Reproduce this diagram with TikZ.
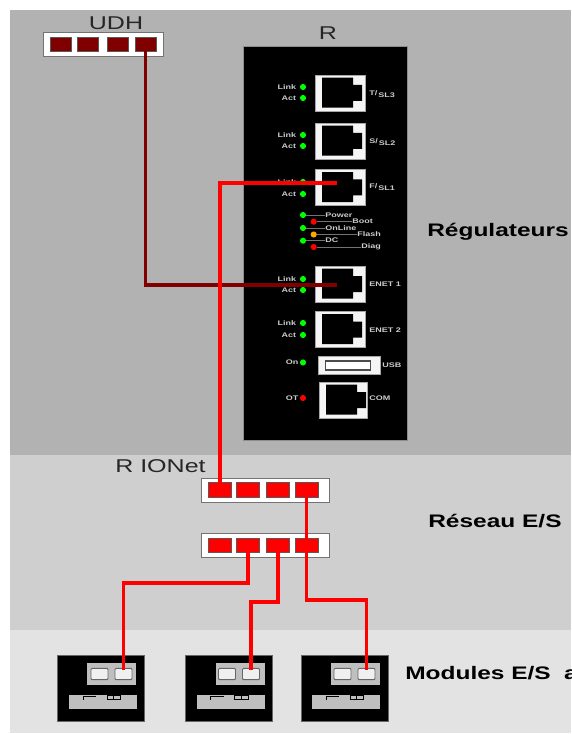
\documentclass[tikz,border=0pt]{standalone}
\usepackage{fontspec}
\setmainfont{Liberation Sans}
\newfontfamily\widefont[FakeStretch=1.35]{Liberation Sans}
\usetikzlibrary{positioning,calc}
\definecolor{wirered}{HTML}{FF0000}
\definecolor{wiredark}{HTML}{800000}
\tikzset{
  title/.style={font=\widefont\fontsize{13.9pt}{15pt}\selectfont,text=black!85,inner sep=0},
  zone/.style={font=\widefont\bfseries\fontsize{13.6pt}{15pt}\selectfont,text=black,inner sep=0,anchor=west},
  small/.style={font=\widefont\bfseries\fontsize{5pt}{6pt}\selectfont,text=black!20,inner sep=0},
  led/.style={circle,fill=green,inner sep=0,minimum size=4.6pt},
  tick/.style={draw=black!55,line width=0.5pt},
  rj/.style={draw=black!35,fill=white!96!black,line width=0.6pt,inner sep=0,minimum width=37.5pt,minimum height=27pt,
    path picture={\fill[black] ([shift={(5.25pt,-2pt)}]path picture bounding box.north west)
      -- ++(23.25pt,0) -- ++(0,-5.5pt) -- ++(6.75pt,0) -- ++(0,-12pt) -- ++(-6.75pt,0) -- ++(0,-5pt) -- ++(-23.25pt,0) -- cycle;}},
  usbbox/.style={draw=black!35,fill=white!96!black,line width=0.6pt,inner sep=0,minimum width=46.5pt,minimum height=13pt},
  usbslot/.style={draw=black!70,line width=1.2pt,fill=white,inner sep=0,minimum width=34pt,minimum height=6.5pt},
  swbox/.style={draw=black!55,fill=white,line width=0.7pt,inner sep=0,minimum width=96pt,minimum height=18pt},
  udhbox/.style={draw=black!55,fill=white,line width=0.7pt,inner sep=0,minimum width=90pt,minimum height=18pt},
  swport/.style={draw=black!65,fill=wirered,line width=0.5pt,inner sep=0,minimum width=17pt,minimum height=11.5pt},
  udhport/.style={draw=black!65,fill=wiredark,line width=0.5pt,inner sep=0,minimum width=16pt,minimum height=10.5pt},
  wire/.style={draw=wirered,line width=2.9pt},
  darkwire/.style={draw=wiredark,line width=2.4pt},
  modbox/.style={draw=black!60,fill=black,line width=0.4pt,inner sep=0,minimum width=65pt,minimum height=49.5pt},
  modtop/.style={fill=black!25,inner sep=0,minimum width=36.75pt,minimum height=16.5pt},
  socket/.style={draw=black!60,fill=black!6,rounded corners=0.8pt,line width=0.7pt,inner sep=0,minimum width=12.75pt,minimum height=8.5pt},
  modlow/.style={fill=black!25,inner sep=0,minimum width=51pt,minimum height=10.5pt,
    path picture={\draw[black,line width=0.5pt] ([shift={(10.5pt,-3.8pt)}]path picture bounding box.north west) -- ++(0,3pt) -- ++(10pt,0);
      \draw[black,line width=0.5pt] ([shift={(28.5pt,-0.6pt)}]path picture bounding box.north west) rectangle ++(10pt,-2.4pt);
      \draw[black,line width=0.5pt] ([shift={(33.5pt,-0.6pt)}]path picture bounding box.north west) -- ++(0,-2.4pt);}}
}
\begin{document}
\begin{tikzpicture}[x=0.75pt,y=-0.75pt]
\useasboundingbox (0,0) rectangle (571,734);
\fill[black!30] (10,10) rectangle (571,455);
\fill[black!19] (10,455) rectangle (571,630);
\fill[black!11] (10,630) rectangle (571,733);
% zone labels
\node[zone](regul) at (427,232){Régulateurs};
\node[zone](reseau) at (428,521){Réseau E/S};
\node[zone](modules) at (405,673){Modules E/S\hspace{10pt}a};
% UDH switch
\node[title](udhlab) at (116,23){UDH};
\node[udhbox](udh) at (103,44.5){};
\node[udhport](udha) at (61,44){};
\node[udhport](udhb) at (88,44){};
\node[udhport](udhc) at (118,44){};
\node[udhport](udhd) at (145.7,44){};
% controller panel
\node[title](rlab) at (328,33){R};
\node[draw=black!45,fill=black,line width=0.6pt,inner sep=0,minimum width=123pt,minimum height=296pt](panel) at (325,243.5){};
\node[rj](sl3) at (340,93){};
\node[rj](sl2) at (340,141){};
\node[rj](sl1) at (340,187.5){};
\node[rj](enet1) at (340,284){};
\node[rj](enet2) at (340,329.5){};
\node[usbbox](usb) at (349,365.5){};
\node[usbslot](usbin) at (348,365.5){};
\node[rj,minimum width=36pt](com) at (343,400){};
\node[small,anchor=west](sl3lab) at (369,94){\raisebox{1.5pt}{T/}\,SL3};
\node[small,anchor=west](sl2lab) at (369,142){\raisebox{1.5pt}{S/}\,SL2};
\node[small,anchor=west](sl1lab) at (369,187){\raisebox{1.5pt}{F/}\,SL1};
\node[small,anchor=west](enet1lab) at (369,284){ENET 1};
\node[small,anchor=west](enet2lab) at (369,330){ENET 2};
\node[small,anchor=west](usblab) at (382,365){USB};
\node[small,anchor=west](comlab) at (369,398){COM};
% port leds
\node[led](la) at (303,87){}; \node[small,left=2.5pt of la](lat){Link};
\node[led](lb) at (303,98){}; \node[small,left=2.5pt of lb](lbt){Act};
\node[led](lc) at (303,135){}; \node[small,left=2.5pt of lc](lct){Link};
\node[led](ld) at (303,146){}; \node[small,left=2.5pt of ld](ldt){Act};
\node[led](le) at (303,182){}; \node[small,left=2.5pt of le](let){Link};
\node[led](lf) at (303,194){}; \node[small,left=2.5pt of lf](lft){Act};
\node[led](lg) at (303,279){}; \node[small,left=2.5pt of lg](lgt){Link};
\node[led](lh) at (303,290){}; \node[small,left=2.5pt of lh](lht){Act};
\node[led](li) at (303,323){}; \node[small,left=2.5pt of li](lit){Link};
\node[led](lj) at (303,335){}; \node[small,left=2.5pt of lj](ljt){Act};
\node[led](lon) at (303,362.5){}; \node[small,left=0.8pt of lon](lont){On};
\node[led,fill=red](lot) at (303,398){}; \node[small,left=0.8pt of lot](lott){OT};
% status leds
\node[led](power) at (303,215){};
\node[led,fill=red](boot) at (313.7,221.7){};
\node[led](online) at (303,228){};
\node[led,fill=orange!70!yellow](flash) at (313.7,234.5){};
\node[led](dc) at (303,240.7){};
\node[led,fill=red](diag) at (313.7,247){};
\node[small,anchor=west](powert) at (325,215){Power};
\node[small,anchor=west](boott) at (352,221.7){Boot};
\node[small,anchor=west](onlinet) at (325,228){OnLine};
\node[small,anchor=west](flasht) at (357,234.5){Flash};
\node[small,anchor=west](dct) at (325,240.7){DC};
\node[small,anchor=west](diagt) at (361,247){Diag};
\draw[tick](power)--(powert);
\draw[tick](boot)--(boott);
\draw[tick](online)--(onlinet);
\draw[tick](flash)--(flasht);
\draw[tick](dc)--(dct);
\draw[tick](diag)--(diagt);
% R IONet switches
\node[title,anchor=west](ionlab) at (115,466){R IONet};
\node[swbox](iona) at (265,490){};
\node[swport](ionaa) at (220,490){};
\node[swport](ionab) at (248,490){};
\node[swport](ionac) at (278,490){};
\node[swport](ionad) at (306.5,490){};
\node[swbox](ionb) at (265,545){};
\node[swport,minimum height=10.5pt](ionba) at (220,545){};
\node[swport,minimum height=10.5pt](ionbb) at (248,545){};
\node[swport,minimum height=10.5pt](ionbc) at (278,545){};
\node[swport,minimum height=10.5pt](ionbd) at (306.5,545){};
% I/O modules
\node[modbox](moda) at (100.5,688){};
\node[modtop](modat) at (111.5,674){};
\node[socket](modas) at (99.5,674){};
\node[socket](modar) at (123.5,674){};
\node[modlow](modal) at (103,702){};
\node[modbox](modb) at (229,688){};
\node[modtop](modbt) at (240,674){};
\node[socket](modbs) at (227,674){};
\node[socket](modbr) at (251,674){};
\node[modlow](modbl) at (230.5,702){};
\node[modbox](modc) at (344.5,688){};
\node[modtop](modct) at (355.5,674){};
\node[socket](modcs) at (342.5,674){};
\node[socket](modcr) at (366.5,674){};
\node[modlow](modcl) at (346,702){};
% wires
\coordinate (benda) at (123.5,583);
\coordinate (bendb) at (251,602);
\coordinate (bendc) at (366.5,600);
\draw[darkwire](udhd.center) |- ([shift={(-2.25pt,-0.75pt)}]enet1.center);
\draw[wire](ionaa.center) |- ([shift={(-2.25pt,3.4pt)}]sl1.center);
\draw[wire](ionad.center)--(ionbd.center);
\draw[wire](ionbb.center) |- (benda)--([yshift=-1.5pt]modar.north);
\draw[wire](ionbc.center) |- (bendb)--([yshift=-1.5pt]modbr.north);
\draw[wire](ionbd.center) |- (bendc)--([yshift=-1.5pt]modcr.north);
\end{tikzpicture}
\end{document}
